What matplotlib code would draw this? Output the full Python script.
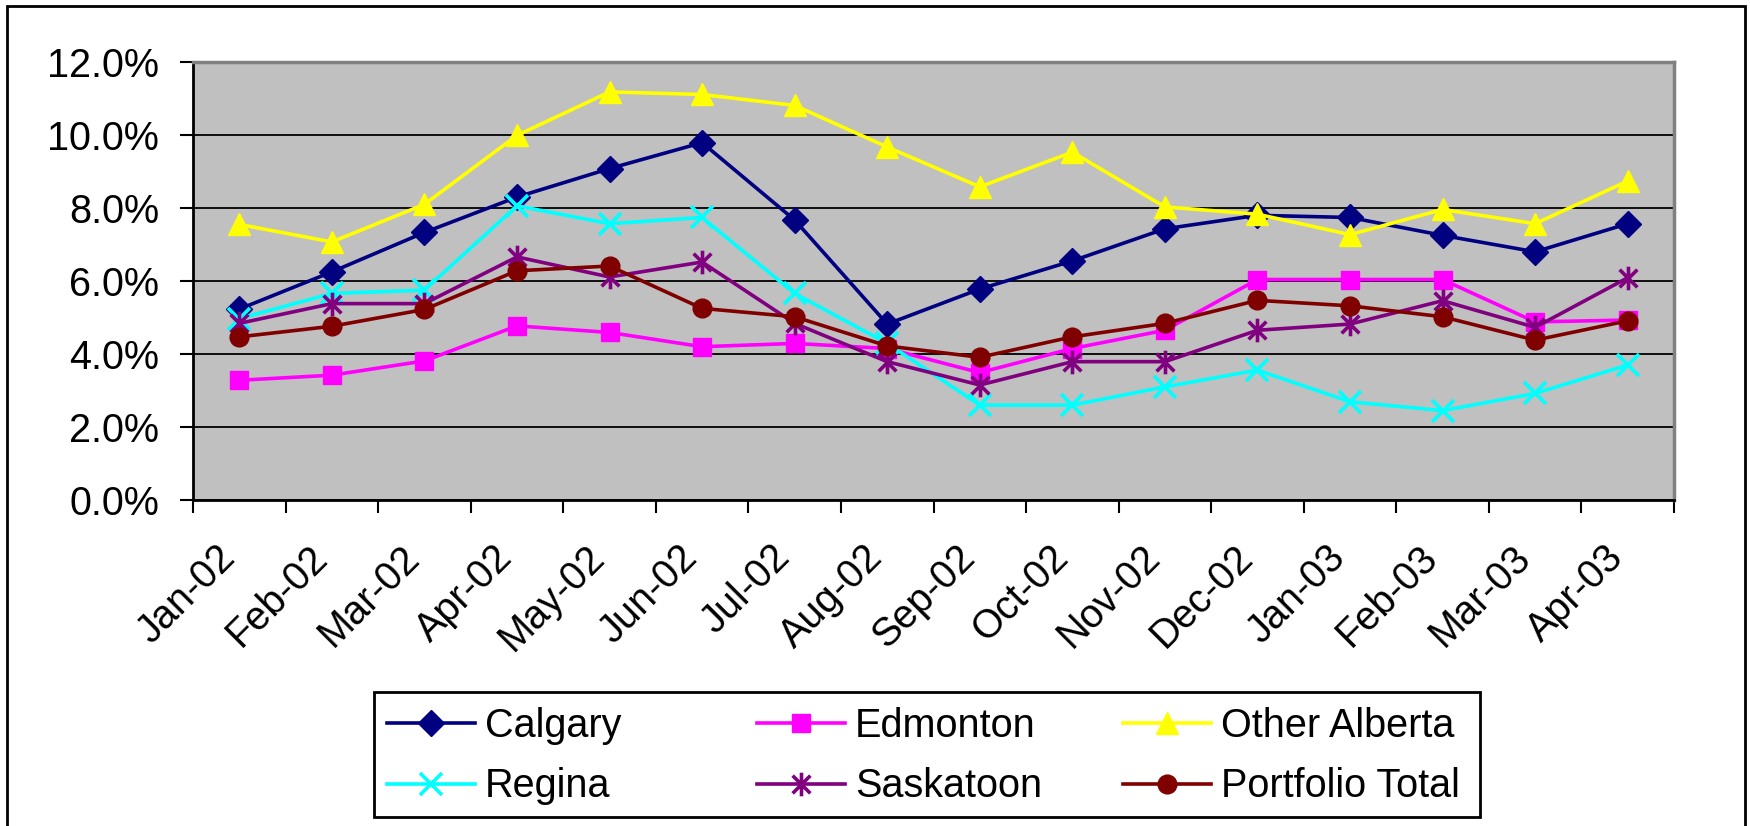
import matplotlib
matplotlib.use("Agg")
import matplotlib.pyplot as plt
import numpy as np
from matplotlib.path import Path
from matplotlib.patches import Rectangle
from matplotlib.transforms import ScaledTranslation
from matplotlib.ticker import FuncFormatter

plt.rcParams['font.family'] = ['Liberation Sans', 'DejaVu Sans']

months = ["Jan-02", "Feb-02", "Mar-02", "Apr-02", "May-02", "Jun-02", "Jul-02", "Aug-02",
          "Sep-02", "Oct-02", "Nov-02", "Dec-02", "Jan-03", "Feb-03", "Mar-03", "Apr-03"]

# rates in percent
calgary = [5.23, 6.25, 7.33, 8.30, 9.08, 9.79, 7.67, 4.82, 5.78, 6.55, 7.43, 7.80, 7.74, 7.25, 6.80, 7.57]
edmonton = [3.28, 3.42, 3.81, 4.77, 4.59, 4.20, 4.29, 4.15, 3.49, 4.15, 4.65, 6.04, 6.04, 6.04, 4.88, 4.93]
other_alberta = [7.55, 7.07, 8.10, 9.99, 11.18, 11.11, 10.81, 9.67, 8.58, 9.53, 8.03, 7.83, 7.27, 7.96, 7.57, 8.74]
regina = [4.97, 5.66, 5.75, 8.06, 7.57, 7.74, 5.66, 4.29, 2.60, 2.60, 3.10, 3.56, 2.69, 2.45, 2.92, 3.70]
saskatoon = [4.84, 5.38, 5.38, 6.66, 6.11, 6.52, 4.84, 3.79, 3.15, 3.79, 3.79, 4.65, 4.82, 5.46, 4.73, 6.09]
portfolio = [4.47, 4.76, 5.22, 6.28, 6.41, 5.25, 5.02, 4.22, 3.91, 4.47, 4.84, 5.47, 5.32, 5.02, 4.38, 4.91]

# excel style asterisk: vertical bar plus an X
star = Path([(0, -1), (0, 1), (-0.75, -0.75), (0.75, 0.75), (-0.75, 0.75), (0.75, -0.75)],
            [Path.MOVETO, Path.LINETO, Path.MOVETO, Path.LINETO, Path.MOVETO, Path.LINETO])

series = [
    ("Calgary", calgary, "#000080", "D", 13),
    ("Edmonton", edmonton, "#FF00FF", "s", 13.5),
    ("Other Alberta", other_alberta, "#FFFF00", "^", 16),
    ("Regina", regina, "#00FFFF", "x", 16),
    ("Saskatoon", saskatoon, "#800080", star, 17),
    ("Portfolio Total", portfolio, "#800000", "o", 13.5),
]

fig = plt.figure(figsize=(17.5, 8.26), dpi=100)
ax = fig.add_axes([193 / 1750, 1 - 500 / 826, (1674 - 193) / 1750, (500 - 62) / 826])
ax.set_facecolor('#C0C0C0')

x = np.arange(len(months))
lines = []
for name, vals, color, marker, ms in series:
    if marker in ("x",) or marker is star:
        ln, = ax.plot(x, vals, color=color, lw=2.6, marker=marker, ms=ms, mew=2.6,
                      mec=color, mfc='none', label=name, clip_on=False)
    else:
        ln, = ax.plot(x, vals, color=color, lw=2.6, marker=marker, ms=ms, mew=1,
                      mec=color, mfc=color, label=name, clip_on=False)
    lines.append(ln)

ax.set_xlim(-0.5, 15.5)
ax.set_ylim(0, 12)

# category boundaries get the tick marks, centres get the labels
ax.set_xticks(np.arange(-0.5, 16, 1))
ax.set_xticklabels([])
ax.set_xticks(x, months, minor=True)
ax.tick_params(axis='x', which='major', length=9, width=1.5, direction='out', color='black')
ax.tick_params(axis='x', which='minor', length=0, pad=0, labelsize=28.5)
offset = ScaledTranslation(-0.24, -0.38, fig.dpi_scale_trans)
for lab in ax.get_xticklabels(minor=True):
    lab.set_rotation(45)
    lab.set_ha('right')
    lab.set_va('top')
    lab.set_rotation_mode('anchor')
    lab.set_transform(lab.get_transform() + offset)

ax.set_yticks(np.arange(0, 13, 2))
ax.yaxis.set_major_formatter(FuncFormatter(lambda v, p: f"{v:.1f}%"))
ax.tick_params(axis='y', length=9.5, width=1.5, direction='out', pad=15, labelsize=28.5)

ax.yaxis.grid(True, color='black', lw=1.3)
ax.set_axisbelow(True)

for s in ['top', 'right']:
    ax.spines[s].set_color('#808080')
    ax.spines[s].set_linewidth(2.5)
for s in ['left', 'bottom']:
    ax.spines[s].set_color('black')
    ax.spines[s].set_linewidth(2)

# legend: three fixed-width columns inside one frame
col_x = [387, 757, 1123]
for j in range(3):
    fig.legend(handles=[lines[j], lines[j + 3]], loc='center left',
               bbox_to_anchor=(col_x[j] / 1750, 1 - 756 / 826), frameon=False,
               borderpad=0, borderaxespad=0, handlelength=2.22, handletextpad=0.25,
               labelspacing=0.58, fontsize=28.5)
fig.add_artist(Rectangle((374 / 1750, 1 - 817 / 826), (1480 - 374) / 1750, (817 - 692) / 826,
                         transform=fig.transFigure, fill=False, ec='black', lw=2))

# outer chart border (bottom edge is cut off in the original)
fig.add_artist(Rectangle((7 / 1750, -0.02), (1745 - 7) / 1750, 1 - 6 / 826 + 0.02,
                         transform=fig.transFigure, fill=False, ec='black', lw=2))

fig.savefig("out.png", dpi=100)
